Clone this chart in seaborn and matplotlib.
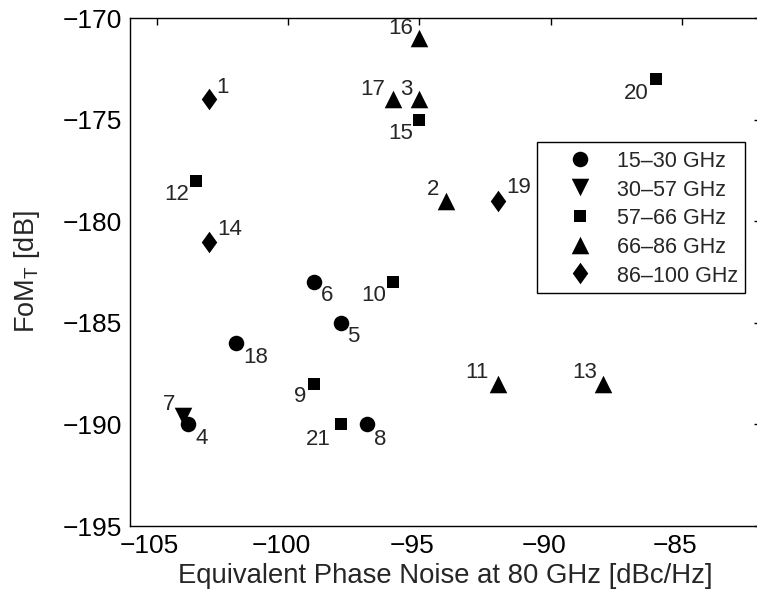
import matplotlib
matplotlib.use("Agg")
import matplotlib.pyplot as plt
import matplotlib.transforms as mtransforms
import seaborn as sns
import pandas as pd

# ---- data ----
point_ids = [1, 2, 3, 4, 5, 6, 7, 8, 9, 10, 11, 12, 13, 14, 15, 16, 17, 18, 19, 20, 21]
phase_noise = [-103, -94, -95, -103.8, -98, -99, -104, -97, -99, -96, -92,
               -103.5, -88, -103, -95, -95, -96, -102, -92, -86, -98]
fom_t = [-174, -179, -174, -190, -185, -183, -189.6, -190, -188, -183, -188,
         -178, -188, -181, -175, -171, -174, -186, -179, -173, -190]
bands = ["86–100 GHz", "66–86 GHz", "66–86 GHz", "15–30 GHz", "15–30 GHz",
         "15–30 GHz", "30–57 GHz", "15–30 GHz", "57–66 GHz", "57–66 GHz",
         "66–86 GHz", "57–66 GHz", "66–86 GHz", "86–100 GHz", "57–66 GHz",
         "66–86 GHz", "66–86 GHz", "15–30 GHz", "86–100 GHz", "57–66 GHz",
         "57–66 GHz"]
band_order = ["15–30 GHz", "30–57 GHz", "57–66 GHz", "66–86 GHz", "86–100 GHz"]
x_ticks = [-105, -100, -95, -90, -85]
y_ticks = [-195, -190, -185, -180, -175, -170]

# label offsets (pixels, relative to marker centre)
label_offsets = {1: (13, 12), 2: (-13, 11), 3: (-13, 10), 4: (13, -14), 5: (13, -14),
                 6: (13, -13), 7: (-14, 12), 8: (13, -15), 9: (-14, -13), 10: (-19, -13),
                 11: (-21, 11), 12: (-19, -14), 13: (-19, 11), 14: (20, 12), 15: (-19, -14),
                 16: (-19, 10), 17: (-20, 10), 18: (20, -14), 19: (20, 13), 20: (-20, -15),
                 21: (-22, -15)}

df = pd.DataFrame({"id": point_ids, "x": phase_noise, "y": fom_t, "band": bands})

sns.set_style("white")
plt.rcParams["font.family"] = ["Liberation Sans", "DejaVu Sans"]
plt.rcParams["mathtext.fontset"] = "custom"
plt.rcParams["mathtext.rm"] = "Liberation Sans"
plt.rcParams["mathtext.it"] = "Liberation Sans:italic"

diamond = [(0, 1), (0.72, 0), (0, -1), (-0.72, 0), (0, 1)]
marker_map = {"15–30 GHz": "o", "30–57 GHz": "v", "57–66 GHz": "s",
              "66–86 GHz": "^", "86–100 GHz": diamond}
size_map = {"15–30 GHz": 125, "30–57 GHz": 160, "57–66 GHz": 80,
            "66–86 GHz": 160, "86–100 GHz": 240}

fig = plt.figure(figsize=(7.57, 5.96), dpi=100)
ax = fig.add_axes([130.4 / 757, 1 - 526 / 596, (761 - 130.4) / 757, (526 - 18) / 596])

for b in band_order:
    sub = df[df["band"] == b]
    sns.scatterplot(data=sub, x="x", y="y", marker=marker_map[b], s=size_map[b],
                    color="black", edgecolor="black", linewidth=0, label=b, ax=ax,
                    zorder=3)

for pid, xv, yv in zip(point_ids, phase_noise, fom_t):
    dx, dy = label_offsets[pid]
    ax.annotate(str(pid), (xv, yv), xytext=(dx, dy), textcoords="offset pixels",
                ha="center", va="center", fontsize=16)

ax.set_xlim(-106, -82)
ax.set_ylim(-195, -170)
ax.set_xticks(x_ticks)
ax.set_yticks(y_ticks)
ax.tick_params(direction="in", top=True, right=True, length=5, width=1,
               labelsize=19, pad=6, colors="black")
shift = mtransforms.ScaledTranslation(-7 / 100, 0, fig.dpi_scale_trans)
for lbl in ax.get_xticklabels():
    lbl.set_transform(lbl.get_transform() + shift)
for sp in ax.spines.values():
    sp.set_visible(True)
    sp.set_color("black")
    sp.set_linewidth(1.0)

ax.set_xlabel("Equivalent Phase Noise at 80 GHz [dBc/Hz]", fontsize=19.8)
ax.xaxis.set_label_coords(0.5, -0.073)
ax.set_ylabel("FoM$_\\mathrm{T}$ [dB]", fontsize=19.5)
ax.yaxis.set_label_coords(-0.140, 0.5)

leg = ax.legend(loc="upper left", bbox_to_anchor=(0.645, 0.7555), borderaxespad=0,
                fontsize=15.5, frameon=True, fancybox=False, framealpha=1,
                edgecolor="black", borderpad=0.3, handlelength=3.4,
                handleheight=1.2, handletextpad=0.03, labelspacing=0.25)
leg.get_frame().set_linewidth(1.0)

fig.savefig("out.png", dpi=100)
